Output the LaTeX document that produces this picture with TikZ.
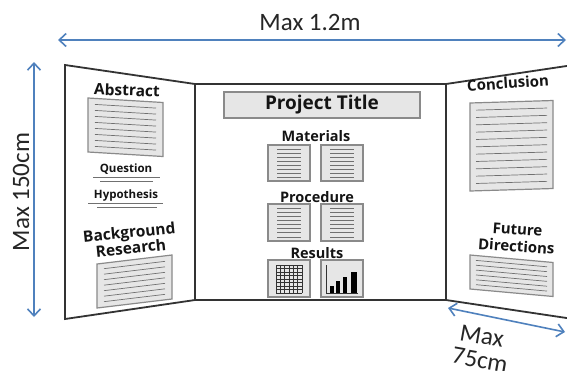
\documentclass[tikz,border=0pt]{standalone}
\usepackage{fontspec}
\newfontfamily\dimfont{Carlito}
\newfontfamily\boardfont{Open Sans}
\usetikzlibrary{arrows.meta,positioning}
\definecolor{dimblue}{HTML}{4F81BD}
\definecolor{panelgray}{HTML}{333333}
\definecolor{sheetfill}{HTML}{E6E6E6}
\definecolor{sheetedge}{HTML}{8A8A8A}
\definecolor{rulegray}{HTML}{707070}
\definecolor{inkgray}{HTML}{141414}

\begin{document}
\begin{tikzpicture}[
    x=1pt, y=-1pt,
    panel/.style={draw=panelgray, line width=1.8pt},
    sheetbox/.style={draw=sheetedge, fill=sheetfill, line width=1.2pt},
    sheetrule/.style={draw=rulegray, line width=0.7pt},
    dimarrow/.style={draw=dimblue, line width=1.6pt,
        {Straight Barb[length=7pt,width=13pt]}-{Straight Barb[length=7pt,width=13pt]}},
    dimlabel/.style={font=\dimfont\fontsize{25}{27}\selectfont, text=black!85, inner sep=0pt},
    boardlabel/.style={text=inkgray, inner sep=0pt, align=center},
    pics/sheet/.style args={#1/#2/#3/#4}{code={
        \draw[sheetbox] (0,0) rectangle (#1,#2);
        \foreach \k in {1,...,#3}
            \draw[sheetrule] ({#4}, {#2*\k/(#3+1)}) -- ({#1-#4}, {#2*\k/(#3+1)});
    }}
]
\clip (0,0) rectangle (567,370);
\fill[white] (0,0) rectangle (567,370);

% -------- Board --------
\draw[panel] (65,65) -- (195,84) -- (195,300) -- (65,319) -- cycle;
\draw[panel] (195,84) rectangle (446,300);
\draw[panel] (580,64) -- (446,84) -- (446,300) -- (580,320);

% -------- Left wing --------
\node[boardlabel, font=\boardfont\bfseries\fontsize{15.5}{17}\selectfont, rotate=-2] (abstract) at (127,90) {Abstract};
\pic[yslant=-0.06] at (88,98) {sheet=75/54/8/7};

\node[boardlabel, font=\boardfont\bfseries\fontsize{11.5}{13}\selectfont] (question) at (126,169) {Question};
\draw[sheetrule, line width=1pt] (93,177) -- (160,177);
\draw[sheetrule, line width=1pt] (100,181) -- (153,181);

\node[boardlabel, font=\boardfont\bfseries\fontsize{11.5}{13}\selectfont] (hypothesis) at (126,196) {Hypothesis};
\draw[sheetrule, line width=1pt] (88,203) -- (163,203);
\draw[sheetrule, line width=1pt] (97,207) -- (157,207);

\node[boardlabel, font=\boardfont\bfseries\fontsize{15.5}{16}\selectfont, rotate=6] (background) at (130,240) {Background\\Research};
\pic[yslant=0.12] at (97,264) {sheet=75/44/7/7};

% -------- Centre panel --------
\node[boardlabel, font=\boardfont\bfseries\fontsize{19}{21}\selectfont,
      draw=sheetedge, fill=sheetfill, line width=1.2pt,
      minimum width=196pt, minimum height=26pt] (title) at (322,105) {Project Title};

\node[boardlabel, font=\boardfont\bfseries\fontsize{14.5}{16}\selectfont] (materials) at (316,136) {Materials};
\pic at (268,145) {sheet=42/36/8/9};
\pic at (321,145) {sheet=42/36/8/9};

\node[boardlabel, font=\boardfont\bfseries\fontsize{14.5}{16}\selectfont] (procedure) at (317,197) {Procedure};
\pic at (268,204) {sheet=42/37/8/9};
\pic at (321,204) {sheet=42/37/8/9};

\node[boardlabel, font=\boardfont\bfseries\fontsize{14.5}{16}\selectfont] (results) at (317,253) {Results};
\draw[sheetbox] (268,260) rectangle (310,297);
\draw[sheetbox] (321,260) rectangle (363,297);
\foreach \gx in {0,...,6}
    \draw[draw=black!80, line width=0.6pt] ({276+\gx*26/6},265) -- ({276+\gx*26/6},293);
\foreach \gy in {0,...,8}
    \draw[draw=black!80, line width=0.6pt] (276,{265+\gy*3.5}) -- (302,{265+\gy*3.5});
\draw[draw=black!80, line width=0.6pt] (326,265) -- (326,293) -- (358,293);
\fill[black] (330,293) rectangle (334,286);
\fill[black] (336,293) rectangle (340,281);
\fill[black] (343,293) rectangle (347,277);
\fill[black] (351,293) rectangle (357,272);

% -------- Right wing --------
\node[boardlabel, font=\boardfont\bfseries\fontsize{15}{16}\selectfont, rotate=4] (conclusion) at (508,83) {Conclusion};
\pic[yslant=0.03] at (470,103) {sheet=83/88/11/6};

\node[boardlabel, font=\boardfont\bfseries\fontsize{15}{17}\selectfont, rotate=-4] (future) at (517,238) {Future\\Directions};
\pic[yslant=-0.09] at (470,255) {sheet=83/34/6/6};

% -------- Dimensions --------
\coordinate (wleft) at (58,40);
\coordinate (wright) at (566,40);
\coordinate (htop) at (34,62);
\coordinate (hbottom) at (34,317);
\coordinate (dnear) at (448,308);
\coordinate (dfar) at (565,332);

\draw[dimarrow] (wleft) -- (wright);
\draw[dimarrow] (htop) -- (hbottom);
\draw[dimarrow] (dnear) -- (dfar);

\node[dimlabel] (widthlabel) at (310,22) {Max 1.2m};
\node[dimlabel, rotate=90] (heightlabel) at (21,192) {Max 150cm};
\node[dimlabel, rotate=-10] (depthlabel) at (482,336) {Max};
\node[dimlabel, rotate=-10] (depthvalue) at (480,360) {75cm};

\end{tikzpicture}
\end{document}
